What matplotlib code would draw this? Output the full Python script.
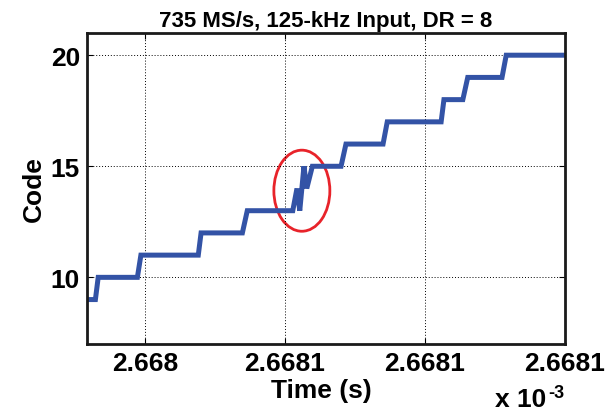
import matplotlib
matplotlib.use("Agg")
import matplotlib.pyplot as plt
from matplotlib.patches import Ellipse

plt.rcParams['font.family'] = ['Liberation Sans', 'DejaVu Sans']
plt.rcParams['font.weight'] = 'bold'

# Time in units of 1e-3 s, code values (vertices of the sampled waveform)
time_ms = [2.6680317, 2.6680329, 2.6680333, 2.6680389, 2.6680394, 2.6680476,
           2.6680480, 2.6680539, 2.6680546, 2.6680611, 2.6680617, 2.6680621,
           2.6680627, 2.6680631, 2.6680639, 2.6680680, 2.6680687, 2.6680740,
           2.6680746, 2.6680823, 2.6680827, 2.6680854, 2.6680861, 2.6680910,
           2.6680916, 2.6681000]
code = [9, 9, 10, 10, 11, 11, 12, 12, 13, 13, 14, 13, 15, 14, 15, 15, 16, 16,
        17, 17, 18, 18, 19, 19, 20, 20]

xticks = [2.66804, 2.66806, 2.66808, 2.66810]
xticklabels = ['2.668', '2.6681', '2.6681', '2.6681']
yticks = [10, 15, 20]
yticklabels = ['10', '15', '20']

glitch_center = (2.6680624, 13.9)
glitch_size = (8.0e-6, 3.65)

fig = plt.figure(figsize=(6.05, 4.14), dpi=100)
ax = fig.add_axes([0.1438, 0.1667, 0.7901, 0.7512])

ax.plot(time_ms, code, color='#3353a6', lw=3.6, solid_joinstyle='miter')
ax.add_patch(Ellipse(glitch_center, glitch_size[0], glitch_size[1],
                     fill=False, edgecolor='#e8232a', lw=2.0))

ax.set_xlim(2.6680317, 2.66810)
ax.set_ylim(7, 21)
ax.set_xticks(xticks)
ax.set_xticklabels(xticklabels)
ax.set_yticks(yticks)
ax.set_yticklabels(yticklabels)
ax.tick_params(direction='in', length=4, width=0.8, labelsize=19,
               top=True, right=True, pad=5)
for lbl in ax.get_xticklabels() + ax.get_yticklabels():
    lbl.set_fontweight('bold')
ax.grid(True, color='black', linestyle=(0, (1, 2)), lw=0.7)
for s in ax.spines.values():
    s.set_linewidth(2.0)
    s.set_color('#1a1a1a')

ax.set_title('735 MS/s, 125-kHz Input, DR = 8', fontsize=16,
             fontweight='bold', pad=5)
ax.set_xlabel('Time (s)', fontsize=19, fontweight='bold')
ax.xaxis.set_label_coords(0.49, -0.11)
ax.set_ylabel('Code', fontsize=19, fontweight='bold')
ax.yaxis.set_label_coords(-0.085, 0.5)

fig.text(0.818, 0.004, 'x 10', fontsize=19, fontweight='bold', ha='left', va='bottom')
fig.text(0.906, 0.030, '-3', fontsize=13, fontweight='bold', ha='left', va='bottom')

fig.savefig('out.png', dpi=100)
